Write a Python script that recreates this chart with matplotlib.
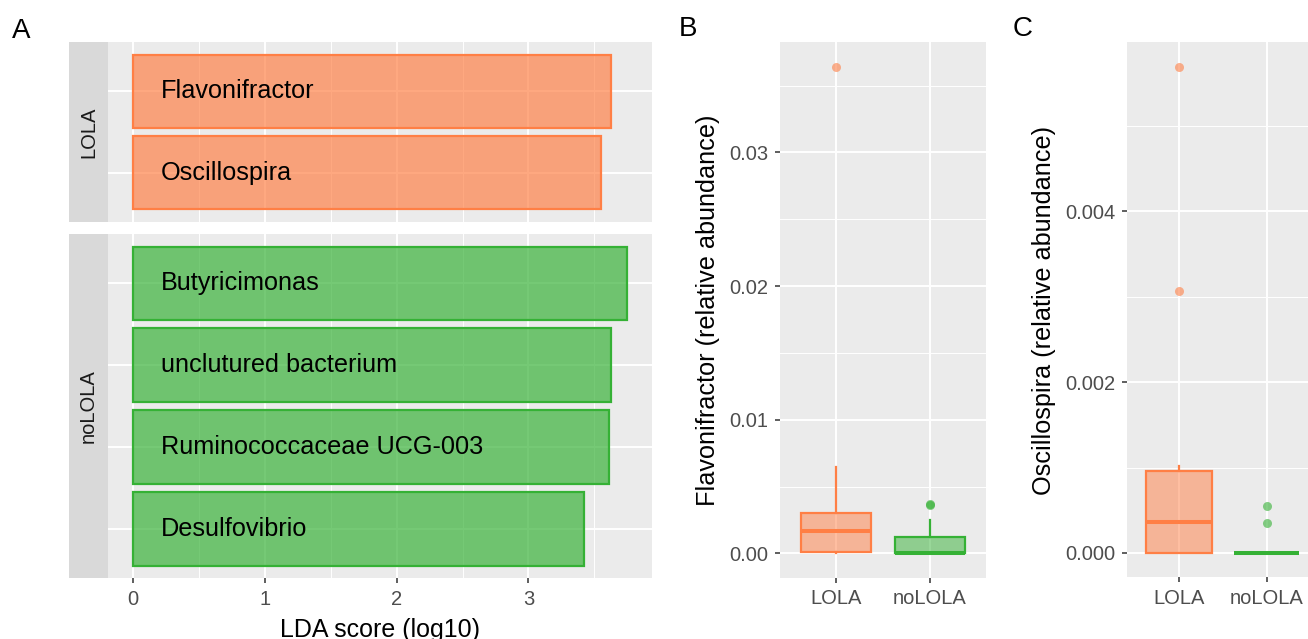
import matplotlib
matplotlib.use("Agg")
import matplotlib.pyplot as plt
from matplotlib.colors import to_rgba
from matplotlib.ticker import FormatStrFormatter, MultipleLocator

plt.rcParams['font.family'] = ['Liberation Sans', 'DejaVu Sans']

# ---- data ----
lola_taxa = ["Flavonifractor", "Oscillospira"]
lola_lda = [3.63, 3.55]
nolola_taxa = ["Butyricimonas", "unclutured bacterium", "Ruminococcaceae UCG-003", "Desulfovibrio"]
nolola_lda = [3.75, 3.63, 3.61, 3.42]

groups = ["LOLA", "noLOLA"]

# box summaries (q1, median, q3, whisker low/high, outliers)
flav_q1 = [0.00013, 0.0]
flav_med = [0.0017, 0.0]
flav_q3 = [0.00304, 0.00125]
flav_wlo = [0.0, 0.0]
flav_whi = [0.00646, 0.00252]
flav_out = [[0.03642], [0.00372, 0.00360]]

osc_q1 = [0.0, 0.0]
osc_med = [0.000367, 0.0]
osc_q3 = [0.000956, 0.0]
osc_wlo = [0.0, 0.0]
osc_whi = [0.00102, 0.0]
osc_out = [[0.00569, 0.00307], [0.00055, 0.000347]]

orange = "#FF7F45"
green = "#35B135"
grp_cols = [orange, green]
panel_bg = "#EBEBEB"
strip_bg = "#D9D9D9"
tick_col = "#4D4D4D"

W, H = 1308, 639
fig = plt.figure(figsize=(W / 100, H / 100), dpi=100)


def px_axes(x0, y0, x1, y1):
    return fig.add_axes([x0 / W, 1 - y1 / H, (x1 - x0) / W, (y1 - y0) / H])


def gg_style(ax):
    ax.set_facecolor(panel_bg)
    for s in ax.spines.values():
        s.set_visible(False)
    ax.set_axisbelow(True)
    ax.tick_params(which="major", length=3.6, width=1.1, color="#333333",
                   labelcolor=tick_col, labelsize=14.5, pad=4.5)
    ax.tick_params(which="minor", length=0)


# ---- panel A ----
lda_max = max(lola_lda + nolola_lda)
xpad = 0.05 * lda_max

def lda_panel(ax, taxa, vals, col, show_x):
    gg_style(ax)
    ypos = list(range(len(taxa)))
    ax.barh(ypos, vals, height=0.9, color=to_rgba(col, 0.68),
            edgecolor=col, linewidth=1.6, zorder=2)
    for y, t in zip(ypos, taxa):
        ax.text(0.21, y, t, va="center", ha="left", fontsize=18.2, color="black", zorder=3)
    ax.set_xlim(-xpad, lda_max + xpad)
    ax.set_ylim(len(taxa) - 0.4, -0.6)
    ax.set_yticks(ypos)
    ax.set_yticklabels([])
    ax.tick_params(axis="y", length=0)
    ax.xaxis.set_major_locator(MultipleLocator(1))
    ax.xaxis.set_minor_locator(MultipleLocator(0.5))
    ax.grid(which="major", color="white", linewidth=1.4)
    ax.grid(which="minor", axis="x", color="white", linewidth=0.7)
    if not show_x:
        ax.tick_params(axis="x", length=0, labelbottom=False)


def strip(ax, label):
    ax.set_facecolor(strip_bg)
    for s in ax.spines.values():
        s.set_visible(False)
    ax.set_xticks([])
    ax.set_yticks([])
    ax.text(0.5, 0.5, label, rotation=90, ha="center", va="center",
            fontsize=14.5, color="#1A1A1A", transform=ax.transAxes)


axA1 = px_axes(108.3, 42.3, 652, 221.7)
lda_panel(axA1, lola_taxa, lola_lda, orange, False)
strip(px_axes(69, 42.3, 108.3, 221.7), groups[0])

axA2 = px_axes(108.3, 234.3, 652, 578.3)
lda_panel(axA2, nolola_taxa, nolola_lda, green, True)
strip(px_axes(69, 234.3, 108.3, 578.3), groups[1])

fig.text(380 / W, 1 - 629.5 / H, "LDA score (log10)", ha="center", va="center", fontsize=18)


# ---- panels B and C ----
def box_panel(ax, q1, med, q3, wlo, whi, out, step, fmt):
    gg_style(ax)
    stats = []
    for i in range(len(groups)):
        stats.append(dict(q1=q1[i], med=med[i], q3=q3[i], whislo=wlo[i],
                          whishi=whi[i], fliers=out[i], label=groups[i]))
    bp = ax.bxp(stats, positions=[1, 2], widths=0.75, patch_artist=True,
                showcaps=False, zorder=2)
    for i, c in enumerate(grp_cols):
        bp["boxes"][i].set_facecolor(to_rgba(c, 0.5))
        bp["boxes"][i].set_edgecolor(c)
        bp["boxes"][i].set_linewidth(1.6)
        bp["medians"][i].set_color(c)
        bp["medians"][i].set_linewidth(2.9)
        bp["medians"][i].set_solid_capstyle("butt")
        for w in bp["whiskers"][2 * i:2 * i + 2]:
            w.set_color(c)
            w.set_linewidth(1.6)
        f = bp["fliers"][i]
        f.set_marker("o")
        f.set_markersize(6.5)
        f.set_markerfacecolor(to_rgba(c, 0.6))
        f.set_markeredgecolor("none")
    top = max(max(o) for o in out)
    ax.set_ylim(-0.05 * top, top * 1.05)
    ax.set_xlim(0.4, 2.6)
    ax.yaxis.set_major_locator(MultipleLocator(step))
    ax.yaxis.set_minor_locator(MultipleLocator(step / 2))
    ax.yaxis.set_major_formatter(FormatStrFormatter(fmt))
    ax.set_xticks([1, 2])
    ax.set_xticklabels(groups)
    ax.grid(which="major", color="white", linewidth=1.4)
    ax.grid(which="minor", axis="y", color="white", linewidth=0.7)


axB = px_axes(780, 42.3, 986, 577.7)
box_panel(axB, flav_q1, flav_med, flav_q3, flav_wlo, flav_whi, flav_out, 0.01, "%.2f")
fig.text(708.5 / W, 1 - 310 / H, "Flavonifractor (relative abundance)", rotation=90,
         ha="center", va="center", fontsize=18.2)

axC = px_axes(1126.7, 42.3, 1319, 577.3)
box_panel(axC, osc_q1, osc_med, osc_q3, osc_wlo, osc_whi, osc_out, 0.002, "%.3f")
fig.text(1044 / W, 1 - 310 / H, "Oscillospira (relative abundance)", rotation=90,
         ha="center", va="center", fontsize=18.2)

# panel letters
fig.text(12 / W, 1 - 31.5 / H, "A", ha="left", va="center", fontsize=20)
fig.text(679 / W, 1 - 29 / H, "B", ha="left", va="center", fontsize=20)
fig.text(1013 / W, 1 - 29 / H, "C", ha="left", va="center", fontsize=20)

fig.savefig("out.png", dpi=100)
